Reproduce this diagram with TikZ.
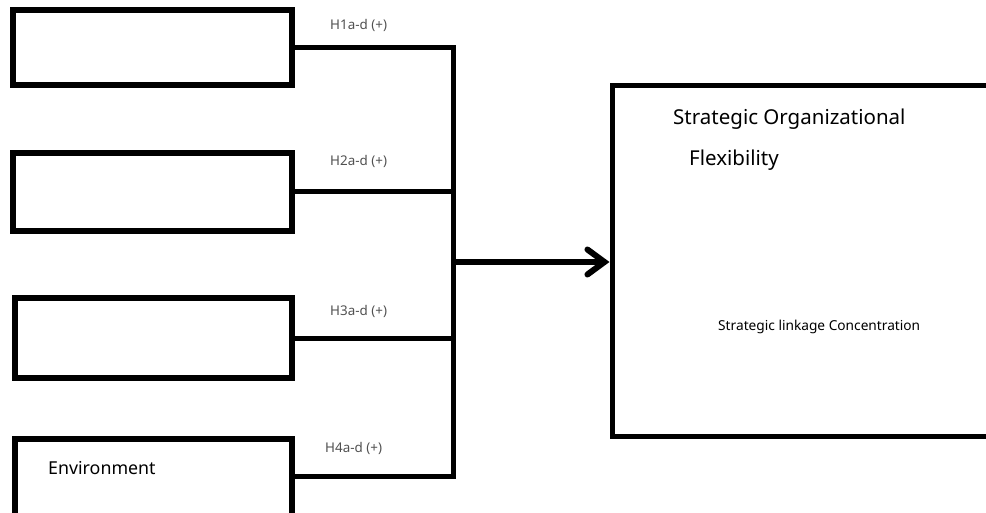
\documentclass[tikz,border=0pt]{standalone}
\usepackage{fontspec}
\setmainfont{Noto Sans}
\usetikzlibrary{arrows.meta}
\definecolor{lblgray}{HTML}{505050}
\tikzset{
  boxnode/.style={draw=black, line width=5.5pt, inner sep=0pt, minimum width=279pt},
  conn/.style={draw=black, line width=5pt},
  hlabel/.style={text=lblgray, font=\fontsize{13.4}{15}\selectfont, inner sep=0pt, anchor=west},
}
\begin{document}
\begin{tikzpicture}[x=1pt,y=-1pt]
\useasboundingbox (0,0) rectangle (986,513);
\begin{scope}
\clip (0,0) rectangle (986,513);
\node[boxnode, minimum height=75pt] (b1) at (152.5,47.5) {};
\node[boxnode, minimum height=78pt] (b2) at (152.5,192) {};
\node[boxnode, minimum width=277pt, minimum height=80pt] (b3) at (153.5,338) {};
\node[boxnode, minimum width=277pt, minimum height=80pt] (b4) at (153.5,479) {};
\node[draw=black, line width=5pt, inner sep=0pt, minimum width=390pt, minimum height=350pt] (big) at (807,261) {};

\coordinate (J) at (453,262);
\coordinate (j4) at (453,476);
\draw[conn] (b1.east) -| (J);
\draw[conn] (b2.east) -- (b2.east -| J);
\draw[conn] (b3.east) -- (b3.east -| J);
\draw[conn] (b4.east |- j4) -- (j4) -- (J);
\draw[line width=6pt, -{Straight Barb[length=17pt,width=25pt,line cap=round]}] (J) -- (big.west |- J);
\end{scope}

\node[hlabel] (h1) at (330,25) {H1a-d (+)};
\node[hlabel] (h2) at (330,161) {H2a-d (+)};
\node[hlabel] (h3) at (330,311) {H3a-d (+)};
\node[hlabel] (h4) at (325,448) {H4a-d (+)};

\node[anchor=west, inner sep=0pt, font=\fontsize{17.8}{20}\selectfont] (env) at (48,468) {Environment};
\node[anchor=west, inner sep=0pt, font=\fontsize{20.5}{24}\selectfont] (t1) at (673,119) {Strategic Organizational};
\node[anchor=west, inner sep=0pt, font=\fontsize{20.5}{24}\selectfont] (t2) at (689,160) {Flexibility};
\node[anchor=west, inner sep=0pt, font=\fontsize{13.7}{16}\selectfont] (t3) at (718,327) {Strategic linkage Concentration};
\end{tikzpicture}
\end{document}
